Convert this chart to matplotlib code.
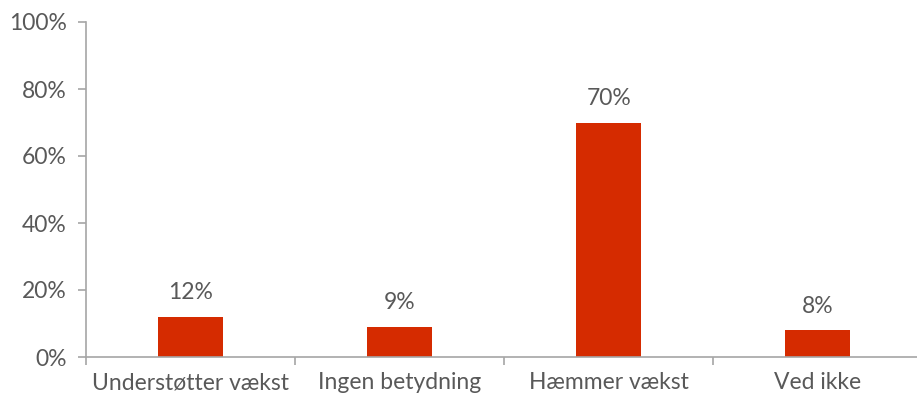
import numpy as np
import matplotlib.pyplot as plt
from matplotlib.ticker import FixedLocator, PercentFormatter

categories = ['Understøtter vækst', 'Ingen betydning', 'Hæmmer vækst', 'Ved ikke']
values = [12, 9, 70, 8]
value_labels = ['12%', '9%', '70%', '8%']

plt.rcParams['font.family'] = ['Lato', 'DejaVu Sans']
text_color = '#595959'
axis_color = '#A6A6A6'
bar_color = '#D52B00'
fs = 16.5

fig = plt.figure(figsize=(9.17, 4), dpi=100)
ax = fig.add_axes([0.094, 0.1075, 0.906, 0.8375])

x = np.arange(len(categories))
ax.bar(x, values, width=0.31, color=bar_color)

for xi, v, lab in zip(x, values, value_labels):
    ax.text(xi, v + 4, lab, ha='center', va='bottom', fontsize=fs, color=text_color)

ax.set_xlim(-0.5, 3.475)
ax.set_ylim(0, 100)
ax.set_yticks(np.arange(0, 101, 20))
ax.yaxis.set_major_formatter(PercentFormatter(decimals=0))

ax.set_xticks(x)
ax.set_xticklabels(categories)
ax.xaxis.set_minor_locator(FixedLocator([-0.5, 0.5, 1.5, 2.5]))
ax.tick_params(axis='x', which='major', length=0, pad=11, labelsize=fs, labelcolor=text_color)
ax.tick_params(axis='x', which='minor', length=6, width=1.2, color=axis_color, direction='out')
ax.tick_params(axis='y', length=6, width=1.2, color=axis_color, pad=8, labelsize=fs, labelcolor=text_color)

for s in ['top', 'right']:
    ax.spines[s].set_visible(False)
for s in ['left', 'bottom']:
    ax.spines[s].set_color(axis_color)
    ax.spines[s].set_linewidth(1.2)

fig.savefig('out.png', dpi=100)
